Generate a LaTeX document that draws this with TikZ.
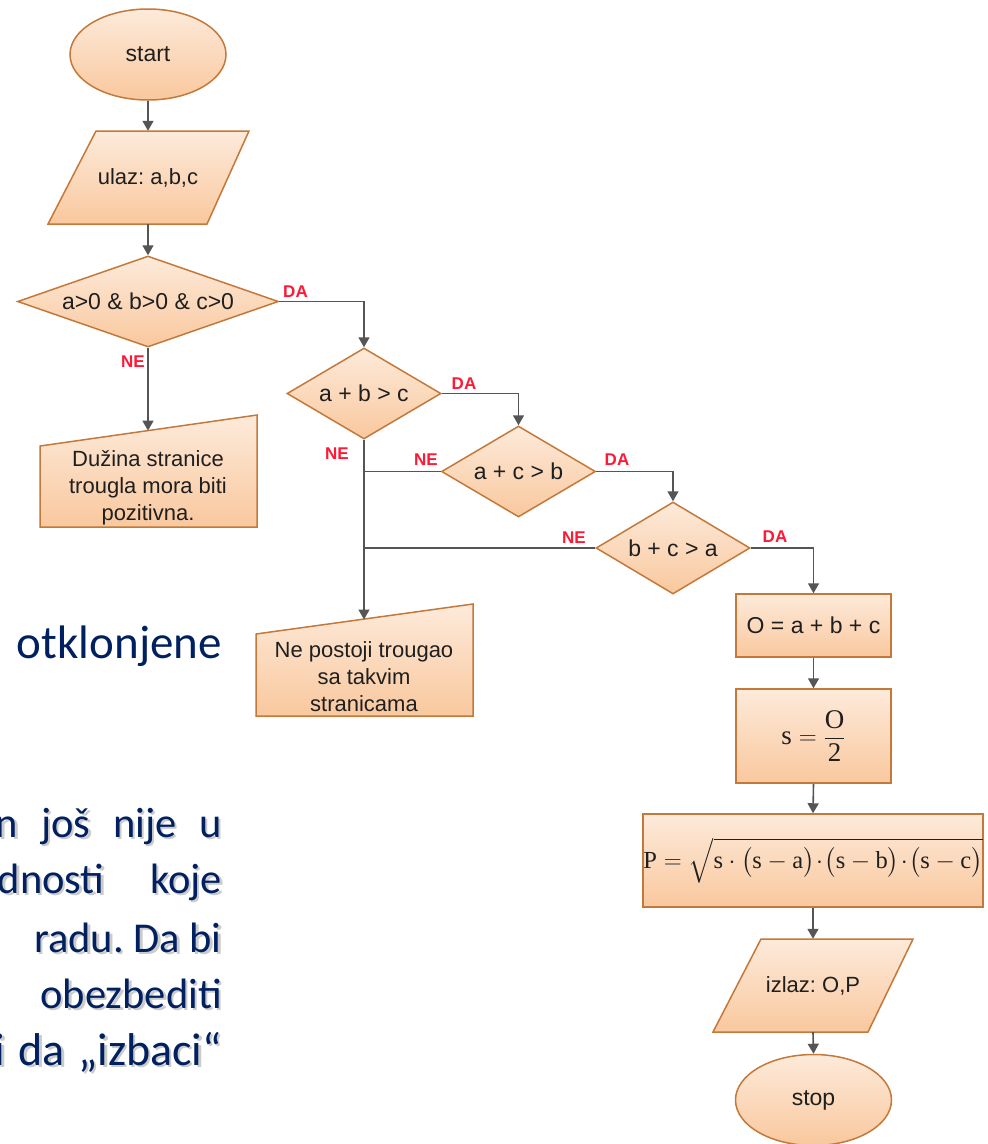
\documentclass[tikz,border=0pt]{standalone}
\usepackage[no-math]{fontspec}
\usepackage{amsmath}
\setmainfont{Liberation Sans}
\newfontfamily\slidefont{Carlito}
\newfontfamily\serifm{Liberation Serif}
\newcommand{\tv}[1]{\text{\serifm #1}}
\usetikzlibrary{shapes.geometric,arrows.meta,calc}
\definecolor{fillTop}{RGB}{253,234,218}
\definecolor{fillBot}{RGB}{249,200,158}
\definecolor{borderc}{RGB}{196,121,58}
\definecolor{connc}{RGB}{85,85,85}
\definecolor{lbl}{RGB}{255,25,55}
\definecolor{navy}{RGB}{0,32,96}
\frenchspacing
\begin{document}
\begin{tikzpicture}[x=1pt,y=-1pt,
  shapebox/.style={draw=borderc, line width=1.5pt, top color=fillTop, bottom color=fillBot},
  txt/.style={font=\fontsize{22}{27}\selectfont, align=center, inner sep=0pt, text=black!88},
  term/.style={shapebox, ellipse, minimum width=156pt, minimum height=91pt, inner sep=0pt, font=\fontsize{23}{27}\selectfont, text=black!88},
  dec/.style={shapebox, diamond, inner sep=0pt, font=\fontsize{23}{27}\selectfont, text=black!88},
  proc/.style={shapebox, rectangle, inner sep=0pt, text=black!88},
  link/.style={draw=connc, line width=1.6pt},
  arr/.style={link, -{Triangle[length=10pt,width=11pt]}},
  yn/.style={text=lbl, font=\bfseries\fontsize{17}{19}\selectfont, inner sep=0pt},
  bgbase/.style={text=navy, inner sep=0pt, anchor=base east},
  bgtext/.style={bgbase, font=\slidefont\fontsize{42.5}{50}\selectfont},
  bgshadow/.style={bgtext, text=black!40, opacity=0.5}
]
\useasboundingbox (0,0) rectangle (988,1144);
\clip (0,0) rectangle (988,1144);
\fill[white] (0,0) rectangle (988,1144);

% background slide text
\node[bgbase, font=\slidefont\fontsize{47}{54}\selectfont] (t0) at (222,658) {otklonjene};
\node[bgshadow] (t1s) at (224.5,839.5) {\makebox[226pt][s]{n još nije u}};
\node[bgtext] (t1) at (222,837) {\makebox[226pt][s]{n još nije u}};
\node[bgshadow] (t2s) at (224.5,895.5) {\makebox[224pt][s]{dnosti koje}};
\node[bgtext] (t2) at (222,893) {\makebox[224pt][s]{dnosti koje}};
\node[bgshadow] (t3s) at (224.5,954.5) {radu. Da bi};
\node[bgtext] (t3) at (222,952) {radu. Da bi};
\node[bgshadow] (t4s) at (224.5,1010.5) {obezbediti};
\node[bgtext] (t4) at (222,1008) {obezbediti};
\node[bgshadow, font=\slidefont\fontsize{46}{50}\selectfont] (t5s) at (224.5,1067.5) {\makebox[227pt][s]{i da „izbaci“}};
\node[bgtext, font=\slidefont\fontsize{46}{50}\selectfont] (t5) at (222,1065) {\makebox[227pt][s]{i da „izbaci“}};

% shapes
\node[term] (start) at (148,54.5) {start};
\path[shapebox] (96,131) -- (249,131) -- (207,224) -- (48,224) -- cycle;
\node[txt, minimum height=93pt, minimum width=100pt] (in) at (148,177.5) {ulaz: a,b,c};
\node[dec, minimum width=261pt, minimum height=91pt, shape aspect=2.87] (d1) at (148,301.5) {a>0 \& b>0 \& c>0};
\node[dec, minimum width=154pt, minimum height=91pt, shape aspect=1.7] (d2) at (364,393.5) {a + b > c};
\node[dec, minimum width=154pt, minimum height=91pt, shape aspect=1.7] (d3) at (518.5,471.5) {a + c > b};
\node[dec, minimum width=154pt, minimum height=92pt, shape aspect=1.7] (d4) at (673,548) {b + c > a};

\path[shapebox] (40,446) -- (257,415) -- (257,527) -- (40,527) -- cycle;
\node[txt] (doc1) at (148,488) {Dužina stranice\\trougla mora biti\\pozitivna.};
\coordinate (doc1top) at (148,430.6);

\path[shapebox] (256,634) -- (473,604) -- (473,716) -- (256,716) -- cycle;
\node[txt] (doc2) at (364,677) {Ne postoji trougao\\sa takvim\\stranicama};
\coordinate (doc2top) at (364,619.5);

\node[proc, minimum width=155pt, minimum height=63pt, font=\fontsize{23}{27}\selectfont] (bo) at (813.5,625.5) {O = a + b + c};
\node[proc, minimum width=155pt, minimum height=94pt, font=\fontsize{27}{31}\selectfont] (bs) at (813.5,736) {$\tv{s}=\dfrac{\tv{O}}{\tv{2}}$};
\node[proc, minimum width=340pt, minimum height=93pt, font=\fontsize{24.5}{30}\selectfont] (bp) at (813,860.5) {$\tv{P}=\sqrt{\tv{s}\cdot\bigl(\tv{s}-\tv{a}\bigr)\!\cdot\!\bigl(\tv{s}-\tv{b}\bigr)\!\cdot\!\bigl(\tv{s}-\tv{c}\bigr)}$};

\path[shapebox] (761,939) -- (913,939) -- (868,1032) -- (713,1032) -- cycle;
\node[txt, minimum height=93pt, minimum width=100pt] (out) at (813,985.5) {izlaz: O,P};
\node[term] (stop) at (813.5,1100) {stop};

% connectors
\draw[arr] (start.south) -- (in.north);
\draw[arr] (in.south) -- (d1.north);
\draw[arr] (d1.east) -| (d2.north);
\draw[arr] (d1.south) -- (doc1top);
\draw[arr] (d2.east) -| (d3.north);
\draw[arr] (d3.east) -| (d4.north);
\draw[arr] (d4.east) -| (bo.north);
\draw[arr] (d2.south) -- (doc2top);
\draw[link] (d3.west) -- (d3.west -| d2.south);
\draw[link] (d4.west) -- (d4.west -| d2.south);
\draw[arr] (bo.south) -- (bs.north);
\draw[arr] (bs.south) -- (bp.north);
\draw[arr] (bp.south) -- (out.north);
\draw[arr] (out.south) -- (stop.north);

% labels
\node[yn] (da1) at (295.5,291.5) {DA};
\node[yn] (ne1) at (133,362) {NE};
\node[yn] (da2) at (464,384) {DA};
\node[yn] (ne2) at (337,454) {NE};
\node[yn] (ne3) at (426,460) {NE};
\node[yn] (da3) at (617,460) {DA};
\node[yn] (ne4) at (574,538) {NE};
\node[yn] (da4) at (775,537) {DA};
\end{tikzpicture}
\end{document}
